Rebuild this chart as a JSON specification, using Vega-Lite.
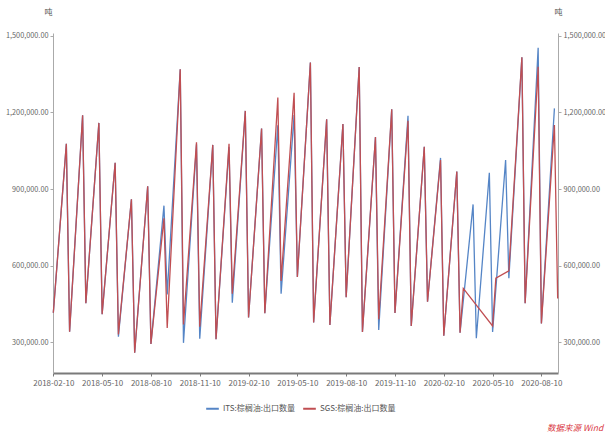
{
  "$schema": "https://vega.github.io/schema/vega-lite/v6.json",
  "width": 505,
  "height": 340,
  "autosize": "none",
  "padding": {"left": 53, "top": 33, "right": 47, "bottom": 65},
  "background": "white",
  "config": {
    "font": "Noto Sans CJK SC",
    "view": {"stroke": null}
  },
  "title": {"text": "数据来源 Wind", "orient": "bottom", "anchor": "end", "frame": "group", "align": "left", "dx": -11, "offset": 11, "color": "#d9363e", "fontSize": 8.5, "fontStyle": "italic", "fontWeight": "normal", "font": "Noto Sans CJK SC"},
  "data": {"values": [
    {"d": "2018-02-10", "s": "ITS:棕榈油:出口数量", "v": 416000}, {"d": "2018-02-10", "s": "SGS:棕榈油:出口数量", "v": 416000},
    {"d": "2018-02-28", "s": "ITS:棕榈油:出口数量", "v": 1077000}, {"d": "2018-02-28", "s": "SGS:棕榈油:出口数量", "v": 1077000},
    {"d": "2018-03-10", "s": "ITS:棕榈油:出口数量", "v": 342000}, {"d": "2018-03-10", "s": "SGS:棕榈油:出口数量", "v": 342000},
    {"d": "2018-03-31", "s": "ITS:棕榈油:出口数量", "v": 1189000}, {"d": "2018-03-31", "s": "SGS:棕榈油:出口数量", "v": 1189000},
    {"d": "2018-04-10", "s": "ITS:棕榈油:出口数量", "v": 453000}, {"d": "2018-04-10", "s": "SGS:棕榈油:出口数量", "v": 453000},
    {"d": "2018-04-30", "s": "ITS:棕榈油:出口数量", "v": 1159000}, {"d": "2018-04-30", "s": "SGS:棕榈油:出口数量", "v": 1159000},
    {"d": "2018-05-10", "s": "ITS:棕榈油:出口数量", "v": 410000}, {"d": "2018-05-10", "s": "SGS:棕榈油:出口数量", "v": 410000},
    {"d": "2018-05-31", "s": "ITS:棕榈油:出口数量", "v": 1003000}, {"d": "2018-05-31", "s": "SGS:棕榈油:出口数量", "v": 1003000},
    {"d": "2018-06-10", "s": "ITS:棕榈油:出口数量", "v": 322000}, {"d": "2018-06-10", "s": "SGS:棕榈油:出口数量", "v": 331000},
    {"d": "2018-06-30", "s": "ITS:棕榈油:出口数量", "v": 860000}, {"d": "2018-06-30", "s": "SGS:棕榈油:出口数量", "v": 860000},
    {"d": "2018-07-10", "s": "ITS:棕榈油:出口数量", "v": 259000}, {"d": "2018-07-10", "s": "SGS:棕榈油:出口数量", "v": 259000},
    {"d": "2018-07-31", "s": "ITS:棕榈油:出口数量", "v": 911000}, {"d": "2018-07-31", "s": "SGS:棕榈油:出口数量", "v": 911000},
    {"d": "2018-08-10", "s": "ITS:棕榈油:出口数量", "v": 294000}, {"d": "2018-08-10", "s": "SGS:棕榈油:出口数量", "v": 294000},
    {"d": "2018-08-31", "s": "ITS:棕榈油:出口数量", "v": 835000}, {"d": "2018-08-31", "s": "SGS:棕榈油:出口数量", "v": 786000},
    {"d": "2018-09-10", "s": "ITS:棕榈油:出口数量", "v": 487000}, {"d": "2018-09-10", "s": "SGS:棕榈油:出口数量", "v": 356000},
    {"d": "2018-09-30", "s": "ITS:棕榈油:出口数量", "v": 1369000}, {"d": "2018-09-30", "s": "SGS:棕榈油:出口数量", "v": 1369000},
    {"d": "2018-10-10", "s": "ITS:棕榈油:出口数量", "v": 298000}, {"d": "2018-10-10", "s": "SGS:棕榈油:出口数量", "v": 370000},
    {"d": "2018-10-31", "s": "ITS:棕榈油:出口数量", "v": 1075000}, {"d": "2018-10-31", "s": "SGS:棕榈油:出口数量", "v": 1083000},
    {"d": "2018-11-10", "s": "ITS:棕榈油:出口数量", "v": 314000}, {"d": "2018-11-10", "s": "SGS:棕榈油:出口数量", "v": 361000},
    {"d": "2018-11-30", "s": "ITS:棕榈油:出口数量", "v": 1073000}, {"d": "2018-11-30", "s": "SGS:棕榈油:出口数量", "v": 1073000},
    {"d": "2018-12-10", "s": "ITS:棕榈油:出口数量", "v": 312000}, {"d": "2018-12-10", "s": "SGS:棕榈油:出口数量", "v": 312000},
    {"d": "2018-12-31", "s": "ITS:棕榈油:出口数量", "v": 1065000}, {"d": "2018-12-31", "s": "SGS:棕榈油:出口数量", "v": 1077000},
    {"d": "2019-01-10", "s": "ITS:棕榈油:出口数量", "v": 455000}, {"d": "2019-01-10", "s": "SGS:棕榈油:出口数量", "v": 490000},
    {"d": "2019-01-31", "s": "ITS:棕榈油:出口数量", "v": 1206000}, {"d": "2019-01-31", "s": "SGS:棕榈油:出口数量", "v": 1206000},
    {"d": "2019-02-10", "s": "ITS:棕榈油:出口数量", "v": 397000}, {"d": "2019-02-10", "s": "SGS:棕榈油:出口数量", "v": 397000},
    {"d": "2019-02-28", "s": "ITS:棕榈油:出口数量", "v": 1137000}, {"d": "2019-02-28", "s": "SGS:棕榈油:出口数量", "v": 1137000},
    {"d": "2019-03-10", "s": "ITS:棕榈油:出口数量", "v": 414000}, {"d": "2019-03-10", "s": "SGS:棕榈油:出口数量", "v": 414000},
    {"d": "2019-03-31", "s": "ITS:棕榈油:出口数量", "v": 1150000}, {"d": "2019-03-31", "s": "SGS:棕榈油:出口数量", "v": 1258000},
    {"d": "2019-04-10", "s": "ITS:棕榈油:出口数量", "v": 490000}, {"d": "2019-04-10", "s": "SGS:棕榈油:出口数量", "v": 540000},
    {"d": "2019-04-30", "s": "ITS:棕榈油:出口数量", "v": 1190000}, {"d": "2019-04-30", "s": "SGS:棕榈油:出口数量", "v": 1277000},
    {"d": "2019-05-10", "s": "ITS:棕榈油:出口数量", "v": 556000}, {"d": "2019-05-10", "s": "SGS:棕榈油:出口数量", "v": 556000},
    {"d": "2019-05-31", "s": "ITS:棕榈油:出口数量", "v": 1395000}, {"d": "2019-05-31", "s": "SGS:棕榈油:出口数量", "v": 1395000},
    {"d": "2019-06-10", "s": "ITS:棕榈油:出口数量", "v": 378000}, {"d": "2019-06-10", "s": "SGS:棕榈油:出口数量", "v": 378000},
    {"d": "2019-06-30", "s": "ITS:棕榈油:出口数量", "v": 1173000}, {"d": "2019-06-30", "s": "SGS:棕榈油:出口数量", "v": 1173000},
    {"d": "2019-07-10", "s": "ITS:棕榈油:出口数量", "v": 368000}, {"d": "2019-07-10", "s": "SGS:棕榈油:出口数量", "v": 368000},
    {"d": "2019-07-31", "s": "ITS:棕榈油:出口数量", "v": 1155000}, {"d": "2019-07-31", "s": "SGS:棕榈油:出口数量", "v": 1155000},
    {"d": "2019-08-10", "s": "ITS:棕榈油:出口数量", "v": 477000}, {"d": "2019-08-10", "s": "SGS:棕榈油:出口数量", "v": 477000},
    {"d": "2019-08-31", "s": "ITS:棕榈油:出口数量", "v": 1378000}, {"d": "2019-08-31", "s": "SGS:棕榈油:出口数量", "v": 1378000},
    {"d": "2019-09-10", "s": "ITS:棕榈油:出口数量", "v": 341000}, {"d": "2019-09-10", "s": "SGS:棕榈油:出口数量", "v": 341000},
    {"d": "2019-09-30", "s": "ITS:棕榈油:出口数量", "v": 1104000}, {"d": "2019-09-30", "s": "SGS:棕榈油:出口数量", "v": 1104000},
    {"d": "2019-10-10", "s": "ITS:棕榈油:出口数量", "v": 348000}, {"d": "2019-10-10", "s": "SGS:棕榈油:出口数量", "v": 390000},
    {"d": "2019-10-31", "s": "ITS:棕榈油:出口数量", "v": 1212000}, {"d": "2019-10-31", "s": "SGS:棕榈油:出口数量", "v": 1212000},
    {"d": "2019-11-10", "s": "ITS:棕榈油:出口数量", "v": 415000}, {"d": "2019-11-10", "s": "SGS:棕榈油:出口数量", "v": 415000},
    {"d": "2019-11-30", "s": "ITS:棕榈油:出口数量", "v": 1187000}, {"d": "2019-11-30", "s": "SGS:棕榈油:出口数量", "v": 1167000},
    {"d": "2019-12-10", "s": "ITS:棕榈油:出口数量", "v": 364000}, {"d": "2019-12-10", "s": "SGS:棕榈油:出口数量", "v": 364000},
    {"d": "2019-12-31", "s": "ITS:棕榈油:出口数量", "v": 1066000}, {"d": "2019-12-31", "s": "SGS:棕榈油:出口数量", "v": 1066000},
    {"d": "2020-01-10", "s": "ITS:棕榈油:出口数量", "v": 459000}, {"d": "2020-01-10", "s": "SGS:棕榈油:出口数量", "v": 459000},
    {"d": "2020-01-31", "s": "ITS:棕榈油:出口数量", "v": 1022000}, {"d": "2020-01-31", "s": "SGS:棕榈油:出口数量", "v": 1014000},
    {"d": "2020-02-10", "s": "ITS:棕榈油:出口数量", "v": 326000}, {"d": "2020-02-10", "s": "SGS:棕榈油:出口数量", "v": 326000},
    {"d": "2020-02-29", "s": "ITS:棕榈油:出口数量", "v": 969000}, {"d": "2020-02-29", "s": "SGS:棕榈油:出口数量", "v": 969000},
    {"d": "2020-03-10", "s": "ITS:棕榈油:出口数量", "v": 338000}, {"d": "2020-03-10", "s": "SGS:棕榈油:出口数量", "v": 338000},
    {"d": "2020-03-15", "s": "SGS:棕榈油:出口数量", "v": 511000},
    {"d": "2020-03-31", "s": "ITS:棕榈油:出口数量", "v": 840000},
    {"d": "2020-04-10", "s": "ITS:棕榈油:出口数量", "v": 316000},
    {"d": "2020-04-30", "s": "ITS:棕榈油:出口数量", "v": 964000},
    {"d": "2020-05-10", "s": "ITS:棕榈油:出口数量", "v": 341000}, {"d": "2020-05-10", "s": "SGS:棕榈油:出口数量", "v": 364000},
    {"d": "2020-05-15", "s": "SGS:棕榈油:出口数量", "v": 551000},
    {"d": "2020-05-31", "s": "ITS:棕榈油:出口数量", "v": 1014000},
    {"d": "2020-06-10", "s": "ITS:棕榈油:出口数量", "v": 551000}, {"d": "2020-06-10", "s": "SGS:棕榈油:出口数量", "v": 580000},
    {"d": "2020-06-30", "s": "ITS:棕榈油:出口数量", "v": 1416000}, {"d": "2020-06-30", "s": "SGS:棕榈油:出口数量", "v": 1416000},
    {"d": "2020-07-10", "s": "ITS:棕榈油:出口数量", "v": 453000}, {"d": "2020-07-10", "s": "SGS:棕榈油:出口数量", "v": 453000},
    {"d": "2020-07-31", "s": "ITS:棕榈油:出口数量", "v": 1453000}, {"d": "2020-07-31", "s": "SGS:棕榈油:出口数量", "v": 1379000},
    {"d": "2020-08-10", "s": "ITS:棕榈油:出口数量", "v": 374000}, {"d": "2020-08-10", "s": "SGS:棕榈油:出口数量", "v": 374000},
    {"d": "2020-08-31", "s": "ITS:棕榈油:出口数量", "v": 1216000}, {"d": "2020-08-31", "s": "SGS:棕榈油:出口数量", "v": 1151000},
    {"d": "2020-09-10", "s": "SGS:棕榈油:出口数量", "v": 472000}
  ]},
  "encoding": {
    "x": {
      "field": "d", "type": "ordinal",
      "scale": {"type": "point", "padding": 0.1, "domain": [
        "2018-02-10","2018-02-15","2018-02-20","2018-02-25","2018-02-28",
        "2018-03-10","2018-03-15","2018-03-20","2018-03-25","2018-03-31",
        "2018-04-10","2018-04-15","2018-04-20","2018-04-25","2018-04-30",
        "2018-05-10","2018-05-15","2018-05-20","2018-05-25","2018-05-31",
        "2018-06-10","2018-06-15","2018-06-20","2018-06-25","2018-06-30",
        "2018-07-10","2018-07-15","2018-07-20","2018-07-25","2018-07-31",
        "2018-08-10","2018-08-15","2018-08-20","2018-08-25","2018-08-31",
        "2018-09-10","2018-09-15","2018-09-20","2018-09-25","2018-09-30",
        "2018-10-10","2018-10-15","2018-10-20","2018-10-25","2018-10-31",
        "2018-11-10","2018-11-15","2018-11-20","2018-11-25","2018-11-30",
        "2018-12-10","2018-12-15","2018-12-20","2018-12-25","2018-12-31",
        "2019-01-10","2019-01-15","2019-01-20","2019-01-25","2019-01-31",
        "2019-02-10","2019-02-15","2019-02-20","2019-02-25","2019-02-28",
        "2019-03-10","2019-03-15","2019-03-20","2019-03-25","2019-03-31",
        "2019-04-10","2019-04-15","2019-04-20","2019-04-25","2019-04-30",
        "2019-05-10","2019-05-15","2019-05-20","2019-05-25","2019-05-31",
        "2019-06-10","2019-06-15","2019-06-20","2019-06-25","2019-06-30",
        "2019-07-10","2019-07-15","2019-07-20","2019-07-25","2019-07-31",
        "2019-08-10","2019-08-15","2019-08-20","2019-08-25","2019-08-31",
        "2019-09-10","2019-09-15","2019-09-20","2019-09-25","2019-09-30",
        "2019-10-10","2019-10-15","2019-10-20","2019-10-25","2019-10-31",
        "2019-11-10","2019-11-15","2019-11-20","2019-11-25","2019-11-30",
        "2019-12-10","2019-12-15","2019-12-20","2019-12-25","2019-12-31",
        "2020-01-10","2020-01-15","2020-01-20","2020-01-25","2020-01-31",
        "2020-02-10","2020-02-15","2020-02-20","2020-02-25","2020-02-29",
        "2020-03-10","2020-03-15","2020-03-20","2020-03-25","2020-03-31",
        "2020-04-10","2020-04-15","2020-04-20","2020-04-25","2020-04-30",
        "2020-05-10","2020-05-15","2020-05-20","2020-05-25","2020-05-31",
        "2020-06-10","2020-06-15","2020-06-20","2020-06-25","2020-06-30",
        "2020-07-10","2020-07-15","2020-07-20","2020-07-25","2020-07-31",
        "2020-08-10","2020-08-15","2020-08-20","2020-08-25","2020-08-31",
        "2020-09-10"
      ]},
      "axis": {
        "title": null,
        "values": ["2018-02-10","2018-05-10","2018-08-10","2018-11-10","2019-02-10","2019-05-10","2019-08-10","2019-11-10","2020-02-10","2020-05-10","2020-08-10"],
        "labelAngle": 0, "labelFontSize": 8, "labelColor": "#666666", "labelPadding": 3,
        "domainColor": "#7a7a7a", "domainWidth": 2, "tickColor": "#7a7a7a", "tickSize": 3, "grid": false
      }
    }
  },
  "layer": [
    {
      "mark": {"type": "line", "strokeWidth": 1.3},
      "encoding": {
        "y": {
          "field": "v", "type": "quantitative",
          "scale": {"domain": [180000, 1511000], "nice": false, "zero": false},
          "axis": {
            "orient": "left", "title": "吨", "titleAngle": 0, "titleX": -5, "titleY": -21, "titleAlign": "center", "titleBaseline": "middle",
            "titleFontSize": 8, "titleFontWeight": "normal", "titleColor": "#555555",
            "values": [300000, 600000, 900000, 1200000, 1500000], "format": ",.2f",
            "labelFontSize": 7.3, "labelColor": "#666666", "labelPadding": 2,
            "domainColor": "#aaaaaa", "tickColor": "#aaaaaa", "tickSize": 3, "grid": false
          }
        },
        "color": {
          "field": "s", "type": "nominal",
          "scale": {"domain": ["ITS:棕榈油:出口数量", "SGS:棕榈油:出口数量"], "range": ["#5585c6", "#c04e52"]},
          "legend": {
            "title": null, "orient": "none", "direction": "horizontal", "legendX": 152, "legendY": 368,
            "symbolType": "stroke", "symbolStrokeWidth": 2, "symbolSize": 160, "labelFontSize": 8, "labelColor": "#555555", "columnPadding": 4, "labelOffset": 3
          }
        }
      }
    },
    {
      "mark": {"type": "line", "strokeOpacity": 0},
      "encoding": {
        "detail": {"field": "s"},
        "y": {
          "field": "v", "type": "quantitative",
          "scale": {"domain": [180000, 1511000], "nice": false, "zero": false},
          "axis": {
            "orient": "right", "title": "吨", "titleAngle": 0, "titleX": 0, "titleY": -21, "titleAlign": "center", "titleBaseline": "middle",
            "titleFontSize": 8, "titleFontWeight": "normal", "titleColor": "#555555",
            "values": [300000, 600000, 900000, 1200000, 1500000], "format": ",.2f",
            "labelFontSize": 7.3, "labelColor": "#666666", "labelPadding": 2,
            "domainColor": "#aaaaaa", "tickColor": "#aaaaaa", "tickSize": 3, "grid": false
          }
        }
      }
    }
  ],
  "resolve": {"scale": {"y": "independent"}}
}
